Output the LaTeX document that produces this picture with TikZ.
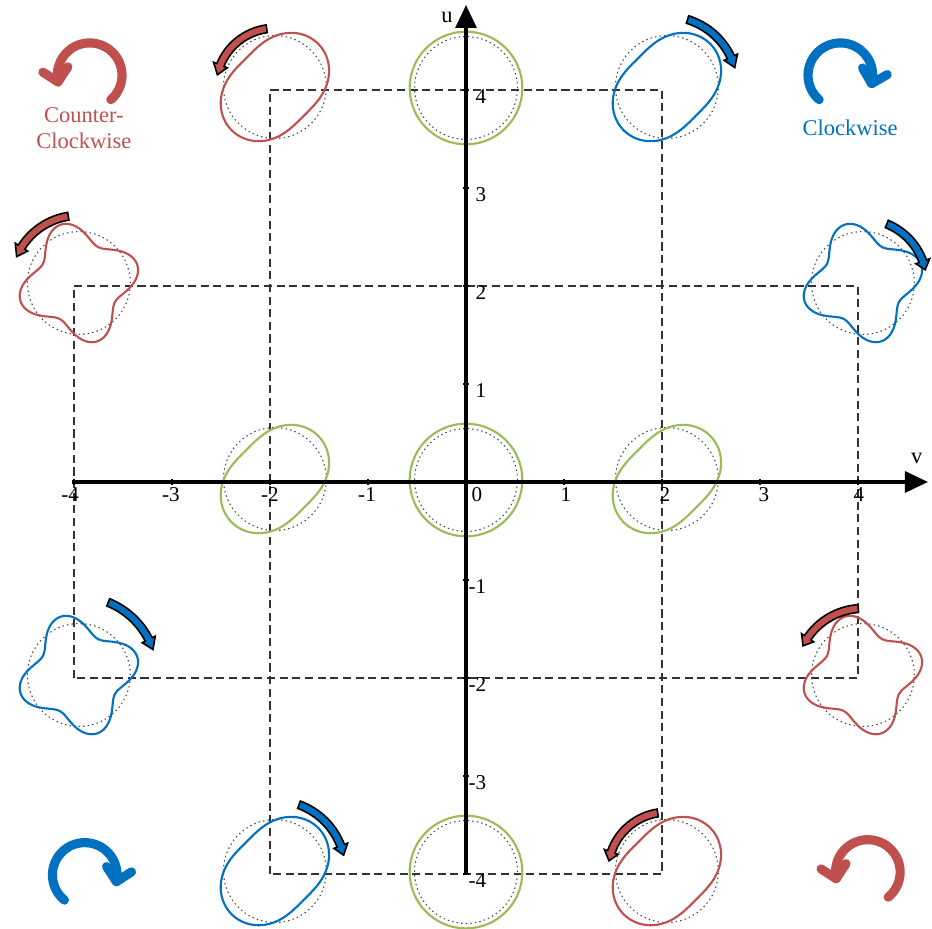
\documentclass[tikz,border=0pt]{standalone}
\usepackage{fontspec}
\setmainfont{Liberation Serif}
\usetikzlibrary{arrows.meta}
\definecolor{ccwred}{HTML}{C0504D}
\definecolor{cwblue}{HTML}{0070C0}
\definecolor{zgreen}{HTML}{9BBB59}
\tikzset{
  axis/.style={line width=0.9pt},
  orbit/.style={line width=0.6pt},
  refcirc/.style={black!75,line width=0.3pt,dash pattern=on 0.4pt off 0.9pt},
  box/.style={black!80,line width=0.45pt,dash pattern=on 2.3pt off 1.3pt},
  spin/.style={draw=black,line width=0.45pt},
  bigspin/.style={line width=2.6pt,line cap=round,line join=round},
  ticklabel/.style={inner sep=0pt,font=\fontsize{6}{7}\selectfont},
  sense/.style={align=center,font=\fontsize{6.4}{7.4}\selectfont},
}
\begin{document}
\begin{tikzpicture}[x=0.98cm,y=0.98cm,>=latex]
  \useasboundingbox (-4.755,-4.561) rectangle (4.755,4.918);
  \clip (-4.755,-4.561) rectangle (4.755,4.918);
  % dashed boxes
  \draw[box] (-2,-4) rectangle (2,4);
  \draw[box] (-4,-2) rectangle (4,2);
  % round orbits on the u axis
  \foreach \u in {4,0,-4} {
    \draw[refcirc] (0,{\u+0.02}) circle[radius=0.525];
    \draw[orbit,zgreen] (0,{\u+0.02}) circle[radius=0.575];
  }
  % two-fold orbits
  \foreach \v/\u/\col in {-2/4/ccwred,2/4/cwblue,-2/0/zgreen,2/0/zgreen,-2/-4/cwblue,2/-4/ccwred} {
    \begin{scope}[shift={({\v+0.05},{\u+0.03})}]
      \draw[refcirc] (0,0) circle[radius=0.525];
      \draw[orbit,\col] plot[smooth cycle,domain=0:355,samples=72]
        (\x:{0.52*(1+0.2*cos(2*(\x-45)))});
    \end{scope}
  }
  % four-fold orbits
  \foreach \v/\u/\col in {-4/2/ccwred,4/2/cwblue,-4/-2/cwblue,4/-2/ccwred} {
    \begin{scope}[shift={({\v+0.05},{\u+0.03})}]
      \draw[refcirc] (0,0) circle[radius=0.525];
      \draw[orbit,\col] plot[smooth cycle,domain=0:357,samples=120]
        (\x:{0.52*(1+0.2*cos(4*(\x-17)))});
    \end{scope}
  }
  % small spin arrows
  \foreach \cx/\cy/\s/\e/\t/\r/\col in {
      -1.95/4.03/98/158/168/0.6/ccwred, 2.05/4.03/73/25/16/0.72/cwblue,
      -3.95/2.03/99/148/157/0.69/ccwred, 4.05/2.03/68/20/12/0.65/cwblue,
      -3.95/-1.97/68/27/19/0.8/cwblue, 4.05/-1.97/94/146/154/0.68/ccwred,
      -1.95/-3.97/70/21/13/0.72/cwblue, 2.05/-3.97/99/161/170/0.6/ccwred} {
    \filldraw[spin,fill=\col,shift={(\cx,\cy)}]
      ({\s}:{\r+0.04}) arc[start angle=\s,end angle=\e,radius={\r+0.04}]
      -- ({\e}:{\r+0.075}) -- ({\t}:{\r}) -- ({\e}:{\r-0.075}) -- ({\e}:{\r-0.04})
      arc[start angle=\e,end angle=\s,radius={\r-0.04}] -- cycle;
  }
  % big sense arrows in the corners
  \begin{scope}[shift={(-3.84,4.15)},ccwred]
    \draw[bigspin] (-49:0.33) arc[start angle=-49,end angle=192,radius=0.33];
    \draw[bigspin,rotate=192] (0.2,-0.13) -- (0.33,0) -- (0.46,-0.13);
  \end{scope}
  \begin{scope}[shift={(3.82,4.15)},cwblue]
    \draw[bigspin] (229:0.33) arc[start angle=229,end angle=-15,radius=0.33];
    \draw[bigspin,rotate=-15] (0.2,0.13) -- (0.33,0) -- (0.46,0.13);
  \end{scope}
  \begin{scope}[shift={(-3.89,-4.01)},cwblue]
    \draw[bigspin] (231:0.33) arc[start angle=231,end angle=-12,radius=0.33];
    \draw[bigspin,rotate=-12] (0.2,0.13) -- (0.33,0) -- (0.46,0.13);
  \end{scope}
  \begin{scope}[shift={(4.10,-3.98)},ccwred]
    \draw[bigspin] (-51:0.33) arc[start angle=-51,end angle=192,radius=0.33];
    \draw[bigspin,rotate=192] (0.2,-0.13) -- (0.33,0) -- (0.46,-0.13);
  \end{scope}
  \node[sense,text=ccwred] (ccwtext) at (-3.90,3.61) {Counter-\\Clockwise};
  \node[sense,text=cwblue] (cwtext) at (3.92,3.61) {Clockwise};
  % axes
  \draw[axis,-{Triangle[length=2.3mm,width=2.1mm]}] (-4.02,0) -- (4.714,0);
  \draw[axis,-{Triangle[length=2.3mm,width=2.1mm]}] (0,-4.0) -- (0,4.867);
  \node[ticklabel,font=\fontsize{6.4}{7}\selectfont] (vlab) at (4.60,0.235) {v};
  \node[ticklabel,font=\fontsize{6.4}{7}\selectfont] (ulab) at (-0.194,4.735) {u};
  \foreach \i in {-4,...,4} {
    \draw[line width=0.6pt] (\i,-0.03) -- (\i,0.03);
    \draw[line width=0.6pt] (-0.03,\i) -- (0.03,\i);
  }
  \foreach \i/\dx in {-4/-0.04,-3/-0.01,-2/0,-1/-0.01,1/0.02,2/0.03,3/0.04,4/0.01}
    \node[ticklabel,anchor=north] (xl\i) at ({\i+\dx},-0.05) {\i};
  \node[ticklabel,anchor=north] (xl0) at (0.11,-0.05) {0};
  \foreach \i in {-4,-3,-2,-1,1,2,3,4}
    \node[ticklabel,anchor=north east] (yl\i) at (0.214,{\i+0.01}) {\i};
\end{tikzpicture}
\end{document}
